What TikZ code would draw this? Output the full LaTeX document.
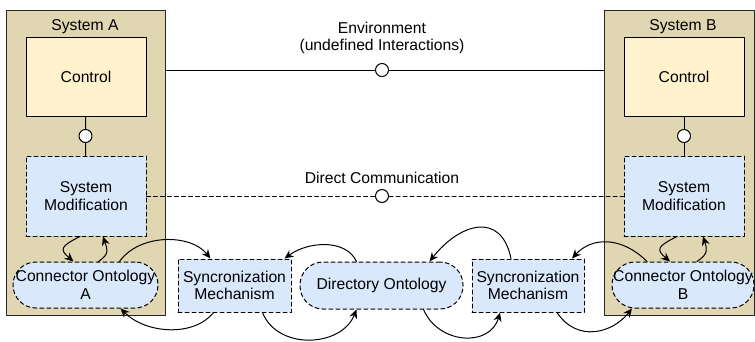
\documentclass[tikz,border=0pt]{standalone}
\usepackage{fontspec}
\setmainfont{Liberation Sans}
\usetikzlibrary{arrows.meta}
\definecolor{sysfill}{HTML}{E1D6B2}
\definecolor{ctlfill}{HTML}{FFF2CC}
\definecolor{modfill}{HTML}{DAE8FC}
\newcommand{\figfont}{\fontsize{15.7}{17.5}\selectfont}

\begin{document}
\begin{tikzpicture}[line cap=round,line join=round,>={Stealth[length=9pt,width=8pt,inset=3pt]},x=1pt,y=-1pt,
    every node/.style={font=\figfont,align=center},
    sysbox/.style={draw=black!85,line width=1pt,fill=sysfill,inner sep=0},
    ctlbox/.style={draw,line width=1pt,fill=ctlfill,minimum width=120,minimum height=79,inner sep=0},
    modbox/.style={draw,line width=1pt,dash pattern=on 4pt off 3pt,fill=modfill,inner sep=0},
    ontbox/.style={modbox,rounded corners=23pt},
    iface/.style={circle,draw,line width=1pt,fill=white,minimum size=13,inner sep=0},
    link/.style={line width=1pt},
    flow/.style={line width=1pt,->}]
      \useasboundingbox (0,0) rectangle (755,341);
      % systems
      \node[sysbox,minimum width=159,minimum height=305] (sysA) at (85.5,162.5) {};
      \node[sysbox,minimum width=150,minimum height=305] (sysB) at (679,162.5) {};
      \node (labA) at (85,27) {System A};
      \node (labB) at (683,27) {System B};
      \node[ctlbox] (ctlA) at (86,76.5) {Control};
      \node[ctlbox] (ctlB) at (684,76.5) {Control};
      \node[modbox,minimum width=120,minimum height=80] (smA) at (86,196) {System\\Modification};
      \node[modbox,minimum width=120,minimum height=80] (smB) at (684,196) {System\\Modification};
      \node[ontbox,minimum width=145,minimum height=46] (coA) at (85.5,285) {Connector Ontology\\A};
      \node[ontbox,minimum width=142,minimum height=46] (coB) at (683,285) {Connector Ontology\\B};
      % shared middle
      \node[modbox,minimum width=113,minimum height=53] (syncA) at (234.5,285.5) {Syncronization\\Mechanism};
      \node[ontbox,minimum width=163,minimum height=47] (dirO) at (381.5,285.5) {Directory Ontology};
      \node[modbox,minimum width=112,minimum height=53] (syncB) at (528,285.5) {Syncronization\\Mechanism};
      % interfaces
      \node[iface] (ifA) at (85.5,136) {};
      \node[iface] (ifB) at (684,136) {};
      \node[iface] (envI) at (382,70) {};
      \node[iface] (dcI) at (382,196) {};
      \node (envL) at (382,38) {Environment\\(undefined Interactions)};
      \node (dcL) at (382,178) {Direct Communication};
      \draw[link] (ctlA) -- (ifA) -- (smA);
      \draw[link] (ctlB) -- (ifB) -- (smB);
      \draw[link] (sysA.east |- envI) -- (envI) -- (sysB.west |- envI);
      \draw[link,dash pattern=on 4pt off 3pt] (smA.east) -- (dcI) -- (smB.west);
      % flows
      \draw[flow] ([xshift=-6]smA.south) .. controls +(-20,10) and +(-14,-12) .. ([xshift=-12]coA.north);
      \draw[flow] ([xshift=13]coA.north) .. controls +(12,-8) and +(4,12) .. ([xshift=17]smA.south);
      \draw[flow] ([xshift=34]coA.north) .. controls +(20,-28) and +(-20,-25) .. ([xshift=-24]syncA.north);
      \draw[flow] ([xshift=-21]syncA.south) .. controls +(-20,25) and +(25,25) .. ([xshift=35]coA.south);
      \draw[flow] ([xshift=28]syncA.south) .. controls +(15,38) and +(-15,38) .. ([xshift=-25]dirO.south);
      \draw[flow] ([xshift=-25]dirO.north) .. controls +(-10,-22) and +(25,-18) .. ([xshift=50]syncA.north);
      \draw[flow] ([xshift=-17]syncB.north) .. controls +(-10,-48) and +(30,-38) .. ([xshift=48]dirO.north);
      \draw[flow] ([xshift=42]dirO.south) .. controls +(15,35) and +(-10,35) .. ([xshift=-28]syncB.south);
      \draw[flow] ([xshift=-36]coB.north) .. controls +(-25,-25) and +(20,-22) .. ([xshift=44]syncB.north);
      \draw[flow] ([xshift=29]syncB.south) .. controls +(20,30) and +(-20,25) .. ([xshift=-51]coB.south);
      \draw[flow] ([xshift=-7]smB.south) .. controls +(-20,10) and +(-14,-12) .. ([xshift=-13]coB.north);
      \draw[flow] ([xshift=14]coB.north) .. controls +(12,-8) and +(4,12) .. ([xshift=19]smB.south);
    \end{tikzpicture}
\end{document}
